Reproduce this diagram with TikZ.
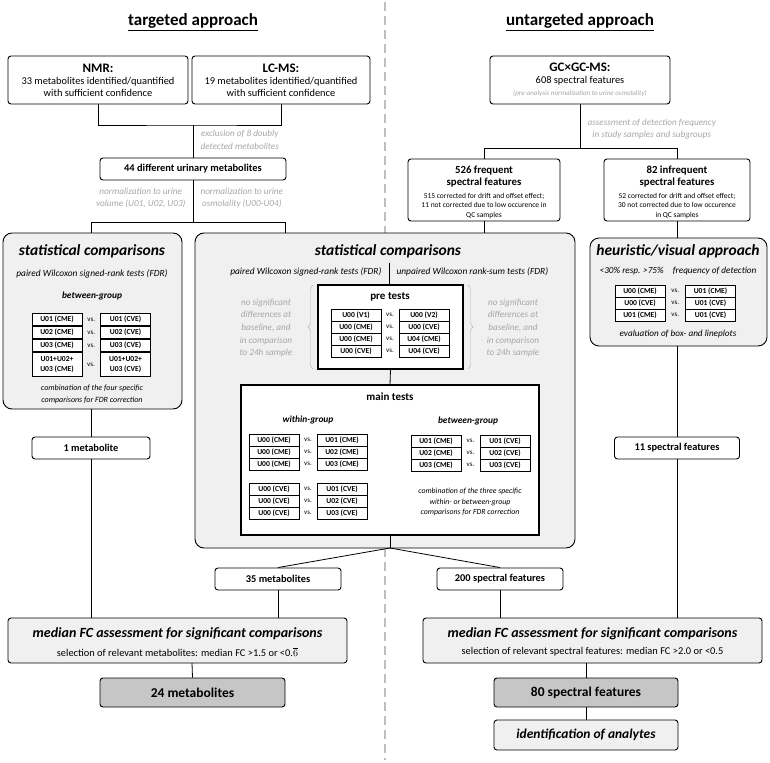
\documentclass[tikz,border=0pt]{standalone}
\usepackage{fontspec}
\setmainfont{Carlito}
\usetikzlibrary{positioning,calc,decorations.pathreplacing}

\tikzset{
    box/.style={draw, rounded corners=3pt, line width=0.9pt, fill=white, align=center, inner sep=1pt},
    panel/.style={draw, rounded corners=9pt, line width=0.9pt, fill=gray!12},
    result/.style={box, fill=gray!45, font=\bfseries\fontsize{13.5}{15}\selectfont},
    cell/.style={draw, line width=0.5pt, fill=white, minimum width=50pt, minimum height=12.4pt, inner sep=0pt, align=center, font=\bfseries\fontsize{7.6}{8}\selectfont},
    note/.style={text=gray!70, align=center, font=\itshape\fontsize{9.2}{12.6}\selectfont},
    link/.style={line width=0.8pt},
}
\newcommand{\vsrow}[6]{%
    \node[cell] (#1l) at (#2,#4) {#5};
    \node[cell] (#1r) at (#3,#4) {#6};
    \node[font=\fontsize{7}{8}\selectfont] at ($(#1l)!0.5!(#1r)$) {vs.};
}

\begin{document}
\begin{tikzpicture}[x=1pt, y=-1pt]
    \useasboundingbox (0,0) rectangle (770,762);
    % divider
    \draw[gray!50, line width=1.4pt, dash pattern=on 9pt off 5pt] (385,2) -- (385,760);

    % titles
    \node[font=\bfseries\fontsize{17}{19}\selectfont] (ttl) at (193,22) {\underline{targeted approach}};
    \node[font=\bfseries\fontsize{17}{19}\selectfont] (utl) at (580,22) {\underline{untargeted approach}};

    %% targeted side
    \node[box, minimum width=180, minimum height=48, font=\fontsize{10.4}{12}\selectfont] (nmr) at (98,80)
        {{\bfseries\fontsize{13}{14}\selectfont NMR:}\\33 metabolites identified/quantified\\with sufficient confidence};
    \node[box, minimum width=178, minimum height=48, font=\fontsize{10.4}{12}\selectfont] (lcms) at (281,80)
        {{\bfseries\fontsize{13}{14}\selectfont LC-MS:}\\19 metabolites identified/quantified\\with sufficient confidence};
    \node[box, minimum width=186, minimum height=22, font=\bfseries\fontsize{10.4}{12}\selectfont] (met44) at (193,169)
        {44 different urinary metabolites};
    \coordinate (j1) at (193,125);
    \draw[link] (nmr.south) |- (j1) -| (lcms.south);
    \draw[link] (j1) -- (met44.north);
    \node[note, anchor=west] at (197,140) {exclusion of 8 doubly\\detected metabolites};

    % normalization split
    \coordinate (j2) at (193,222);
    \draw[link] (met44.south) -- (j2);
    \draw[link] (91,222) -- (285,222);
    \node[note, anchor=east] at (189,198) {normalization to urine\\volume (U01, U02, U03)};
    \node[note, anchor=west] at (197,198) {normalization to urine\\osmolality (U00-U04)};

    % left statistics panel
    \draw[panel] (3,233) rectangle (182,409);
    \draw[link] (91,222) -- (91,233);
    \node[font=\bfseries\itshape\fontsize{15.5}{17}\selectfont] (lstat) at (92,251) {statistical comparisons};
    \node[font=\itshape\fontsize{9.4}{10}\selectfont] at (92,274) {paired Wilcoxon signed-rank tests (FDR)};
    \node[font=\bfseries\itshape\fontsize{9.4}{10}\selectfont] at (92,296) {between-group};
    \vsrow{la}{57}{125.5}{319.5}{U01 (CME)}{U01 (CVE)}
    \vsrow{lb}{57}{125.5}{332.5}{U02 (CME)}{U02 (CVE)}
    \vsrow{lc}{57}{125.5}{345.5}{U03 (CME)}{U03 (CVE)}
    \node[cell, minimum height=24.4pt, font=\bfseries\fontsize{7.6}{10}\selectfont] (ldl) at (57,364.5) {U01+U02+\\U03 (CME)};
    \node[cell, minimum height=24.4pt, font=\bfseries\fontsize{7.6}{10}\selectfont] (ldr) at (125.5,364.5) {U01+U02+\\U03 (CVE)};
    \node[font=\fontsize{7}{8}\selectfont] at (91,364.5) {vs.};
    \node[font=\itshape\fontsize{8}{12}\selectfont, align=center] at (92,394) {combination of the four specific\\comparisons for FDR correction};

    \node[box, minimum width=118, minimum height=22, font=\bfseries\fontsize{10.4}{12}\selectfont] (met1) at (91,448) {1 metabolite};
    \draw[link] (91,409) -- (met1.north);

    % middle statistics panel
    \draw[panel] (195,233) rectangle (575,548);
    \draw[link] (285,222) -- (285,233);
    \node[font=\bfseries\itshape\fontsize{15.5}{17}\selectfont] (mstat) at (388,251) {statistical comparisons};
    \node[font=\itshape\fontsize{9.4}{10}\selectfont, anchor=east] at (385,272) {paired Wilcoxon signed-rank tests (FDR)};
    \node[font=\itshape\fontsize{9.4}{10}\selectfont, anchor=west] at (393,272) {unpaired Wilcoxon rank-sum tests (FDR)};
    \draw[link] (389,263) -- (389,285);

    % pre tests
    \node[draw, line width=1.3pt, fill=white, minimum width=145, minimum height=84, inner sep=0pt] (pre) at (390.5,327) {};
    \node[font=\bfseries\fontsize{11}{12}\selectfont] at (390,297) {pre tests};
    \vsrow{pa}{356}{424}{315}{U00 (V1)}{U00 (V2)}
    \vsrow{pb}{356}{424}{327}{U00 (CME)}{U00 (CVE)}
    \vsrow{pc}{356}{424}{339}{U00 (CME)}{U04 (CME)}
    \vsrow{pd}{356}{424}{351}{U00 (CVE)}{U04 (CVE)}
    \draw[gray!60, decorate, decoration={brace, amplitude=5pt}] (313,369) -- (313,285);
    \draw[gray!60, decorate, decoration={brace, amplitude=5pt}] (468,285) -- (468,369);
    \node[note] at (266,328) {no significant\\differences at\\baseline, and\\in comparison\\to 24h sample};
    \node[note] at (513,328) {no significant\\differences at\\baseline, and\\in comparison\\to 24h sample};

    % main tests
    \node[draw, line width=1.3pt, fill=white, minimum width=298, minimum height=150, inner sep=0pt] (main) at (390,460) {};
    \draw[link] (pre.south) -- (main.north);
    \node[font=\bfseries\fontsize{11}{12}\selectfont] at (390,397) {main tests};
    \node[font=\bfseries\itshape\fontsize{9.4}{10}\selectfont] at (308,420) {within-group};
    \node[font=\bfseries\itshape\fontsize{9.4}{10}\selectfont] at (468,421) {between-group};
    \vsrow{wa}{274}{342}{440}{U00 (CME)}{U01 (CME)}
    \vsrow{wb}{274}{342}{452}{U00 (CME)}{U02 (CME)}
    \vsrow{wc}{274}{342}{464}{U00 (CME)}{U03 (CME)}
    \vsrow{wd}{274}{342}{489}{U00 (CVE)}{U01 (CVE)}
    \vsrow{we}{274}{342}{501}{U00 (CVE)}{U02 (CVE)}
    \vsrow{wf}{274}{342}{513}{U00 (CVE)}{U03 (CVE)}
    \vsrow{ba}{436}{505}{441}{U01 (CME)}{U01 (CVE)}
    \vsrow{bb}{436}{505}{453}{U02 (CME)}{U02 (CVE)}
    \vsrow{bc}{436}{505}{465}{U03 (CME)}{U03 (CVE)}
    \node[font=\itshape\fontsize{7.8}{10.6}\selectfont, align=center] at (470,502) {combination of the three specific\\within- or between-group\\comparisons for FDR correction};

    % split of results
    \coordinate (j3) at (390,548);
    \draw[link] (main.south) -- (j3);
    \node[box, minimum width=126, minimum height=22, font=\bfseries\fontsize{10.4}{12}\selectfont] (met35) at (278,579) {35 metabolites};
    \node[box, minimum width=126, minimum height=22, font=\bfseries\fontsize{10.4}{12}\selectfont] (spf200) at (500,579) {200 spectral features};
    \draw[link] (j3) -- (met35.north);
    \draw[link] (j3) -- (spf200.north);

    % left median FC
    \node[box, fill=gray!12, minimum width=339, minimum height=45] (lfc) at (177.5,640.5) {};
    \node[font=\bfseries\itshape\fontsize{14}{15}\selectfont] at (177.5,634) {median FC assessment for significant comparisons};
    \node[font=\fontsize{10.4}{12}\selectfont] at (177.5,652) {selection of relevant metabolites: median FC >1.5 or <0.$\overline{6}$};
    \draw[link] (met35.south) -- (278,618);
    \draw[link] (met1.south) -- (91,618);
    \node[result, minimum width=185, minimum height=29] (met24) at (192.5,692.5) {24 metabolites};
    \draw[link] (192,663) -- (met24.north);

    %% untargeted side
    \node[box, minimum width=180, minimum height=48, font=\fontsize{10.4}{12}\selectfont] (gcms) at (580,80)
        {{\bfseries\fontsize{13}{14}\selectfont GC×GC-MS:}\\608 spectral features\\{\color{gray!70}\itshape\fontsize{7}{8}\selectfont (pre-analysis normalization to urine osmolality)}};
    \coordinate (j4) at (580,148);
    \draw[link] (gcms.south) -- (j4);
    \draw[link] (484,148) -- (677,148);
    \node[note, anchor=west] at (584,129) {assessment of detection frequency\\in study samples and subgroups};

    \node[box, minimum width=152, minimum height=62] (spf526) at (484,190) {};
    \node[font=\bfseries\fontsize{10.8}{12.5}\selectfont, align=center] at (484,176.5) {526 frequent\\spectral features};
    \node[font=\fontsize{7.5}{9.6}\selectfont, align=center] at (484,206) {515 corrected for drift and offset effect;\\11 not corrected due to low occurence in\\QC samples};
    \node[box, minimum width=146, minimum height=62] (spf82) at (677,190) {};
    \node[font=\bfseries\fontsize{10.8}{12.5}\selectfont, align=center] at (677,176.5) {82 infrequent\\spectral features};
    \node[font=\fontsize{7.5}{9.6}\selectfont, align=center] at (677,206) {52 corrected for drift and offset effect;\\30 not corrected due to low occurence\\in QC samples};
    \draw[link] (484,148) -- (spf526.north);
    \draw[link] (677,148) -- (spf82.north);
    \draw[link] (spf526.south) -- (484,233);

    % heuristic panel
    \draw[panel] (590,238) rectangle (767,346);
    \draw[link] (spf82.south) -- (677,238);
    \node[font=\bfseries\itshape\fontsize{15.5}{17}\selectfont] (heur) at (678,251) {heuristic/visual approach};
    \node[font=\itshape\fontsize{9.2}{10}\selectfont] at (678,271) {<30\% resp. >75\%\quad frequency of detection};
    \vsrow{ha}{640}{710.5}{291}{U00 (CME)}{U01 (CME)}
    \vsrow{hb}{640}{710.5}{303}{U00 (CVE)}{U01 (CVE)}
    \vsrow{hc}{640}{710.5}{315}{U01 (CME)}{U01 (CVE)}
    \node[font=\itshape\fontsize{9.2}{10}\selectfont] at (678,334) {evaluation of box- and lineplots};

    \node[box, minimum width=125, minimum height=22, font=\bfseries\fontsize{10.4}{12}\selectfont] (spf11) at (677,448) {11 spectral features};
    \draw[link] (677,346) -- (spf11.north);

    % right median FC
    \node[box, fill=gray!12, minimum width=339, minimum height=45] (rfc) at (592.5,640.5) {};
    \node[font=\bfseries\itshape\fontsize{14}{15}\selectfont] at (592.5,634) {median FC assessment for significant comparisons};
    \node[font=\fontsize{10.4}{12}\selectfont] at (592.5,652) {selection of relevant spectral features: median FC >2.0 or <0.5};
    \draw[link] (spf200.south) -- (500,618);
    \draw[link] (spf11.south) -- (677,618);
    \node[result, minimum width=184, minimum height=29] (spf80) at (586,692.5) {80 spectral features};
    \draw[link] (586,663) -- (spf80.north);
    \node[box, fill=gray!12, minimum width=184, minimum height=30, font=\bfseries\itshape\fontsize{13.5}{15}\selectfont] (ident) at (586,735) {identification of analytes};
    \draw[link] (spf80.south) -- (ident.north);
\end{tikzpicture}
\end{document}
